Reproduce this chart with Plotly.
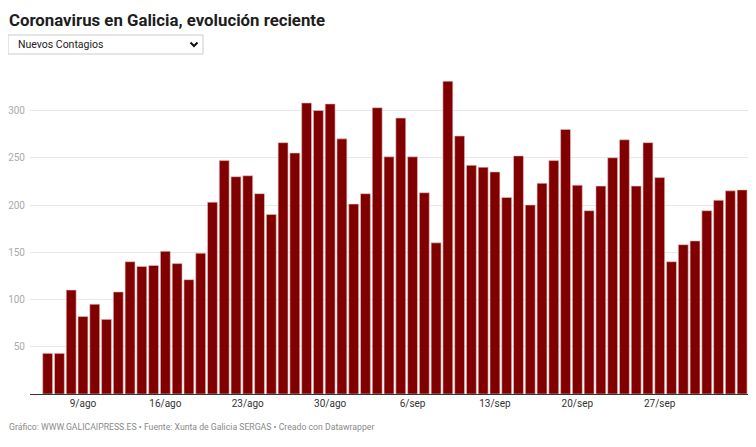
import pandas as pd
import plotly.graph_objects as go

# nuevos contagios diarios, 6 ago - 4 oct 2020
start_date = "2020-08-06"
new_cases = [
    43, 43, 110, 82, 95, 79, 108, 140, 135, 136,
    151, 138, 121, 149, 203, 247, 230, 231, 212, 190,
    266, 255, 308, 300, 307, 270, 201, 212, 303, 251,
    292, 251, 213, 160, 331, 273, 242, 240, 235, 208,
    252, 200, 223, 247, 280, 221, 194, 220, 250, 269,
    220, 266, 229, 140, 158, 162, 194, 205, 215, 216,
]
dates = pd.date_range(start_date, periods=len(new_cases), freq="D")

tick_dates = ["2020-08-09", "2020-08-16", "2020-08-23", "2020-08-30",
              "2020-09-06", "2020-09-13", "2020-09-20", "2020-09-27"]
tick_labels = ["9/ago", "16/ago", "23/ago", "30/ago",
               "6/sep", "13/sep", "20/sep", "27/sep"]
y_ticks = [50, 100, 150, 200, 250, 300]

title = "Coronavirus en Galicia, evolución reciente"
dropdown_label = "Nuevos Contagios"
footer = ("Gráfico: WWW.GALICAIPRESS.ES • Fuente: Xunta de Galicia SERGAS • "
          "Creado con Datawrapper")

# the page body adds an 8px margin, so the figure is made 8px smaller
OFF = 8
W, H = 756 - OFF, 447 - OFF
L, R, T, B = 30 - OFF, 8, 68 - OFF, 53
pw, ph = W - L - R, H - T - B


# window pixel -> paper coords
def px(x):
    return (x - OFF - L) / pw


def py(y):
    return (H - B - (y - OFF)) / ph


fig = go.Figure(go.Bar(
    x=dates, y=new_cases,
    marker=dict(color="#800000", line=dict(color="#e8c4c4", width=0.6)),
    hovertemplate="%{x|%d/%m}: %{y}<extra></extra>",
))

fig.update_layout(
    width=W, height=H,
    margin=dict(l=L, r=R, t=T, b=B, autoexpand=False),
    paper_bgcolor="white", plot_bgcolor="white",
    font=dict(family="Roboto", color="#333"),
    bargap=0.16,
    showlegend=False,
)

fig.update_xaxes(
    type="date", automargin=False,
    range=[dates[0] - pd.Timedelta(hours=36), dates[-1] + pd.Timedelta(hours=12)],
    tickvals=tick_dates, ticktext=tick_labels,
    showgrid=False, ticks="",
    showline=True, linecolor="#333", linewidth=1,
    tickfont=dict(size=10, color="#333"),
    fixedrange=True,
)
fig.update_yaxes(
    range=[0, 345], automargin=False,
    tickvals=y_ticks,
    showgrid=True, gridcolor="#e8e8e8", gridwidth=1,
    zeroline=False, ticks="", ticklabelstandoff=4,
    tickfont=dict(size=10, color="#aaaaaa"),
    fixedrange=True,
)

# titulo
fig.add_annotation(text=f"<b>{title}</b>", xref="paper", yref="paper",
                   x=px(7), y=py(8), xanchor="left", yanchor="top",
                   showarrow=False,
                   font=dict(family="Roboto", size=16.8, color="#1d1d1d"))

# selector "Nuevos Contagios"
fig.add_shape(type="rect", xref="paper", yref="paper",
              x0=px(8), x1=px(203), y0=py(54), y1=py(35),
              line=dict(color="#cccccc", width=1), fillcolor="white")
fig.add_shape(type="path", xref="paper", yref="paper",
              path=(f"M {px(190.5)},{py(42.5)} L {px(194)},{py(46)} "
                    f"L {px(197.5)},{py(42.5)}"),
              line=dict(color="#111111", width=2))
fig.add_annotation(text=dropdown_label, xref="paper", yref="paper",
                   x=px(16), y=py(44.5), xanchor="left", yanchor="middle",
                   showarrow=False, font=dict(size=10.5, color="#222"))

fig.add_annotation(text=footer, xref="paper", yref="paper",
                   x=px(7), y=py(427), xanchor="left", yanchor="middle",
                   showarrow=False, font=dict(size=8.7, color="#8a8a8a"))

fig.write_html("out.html")
